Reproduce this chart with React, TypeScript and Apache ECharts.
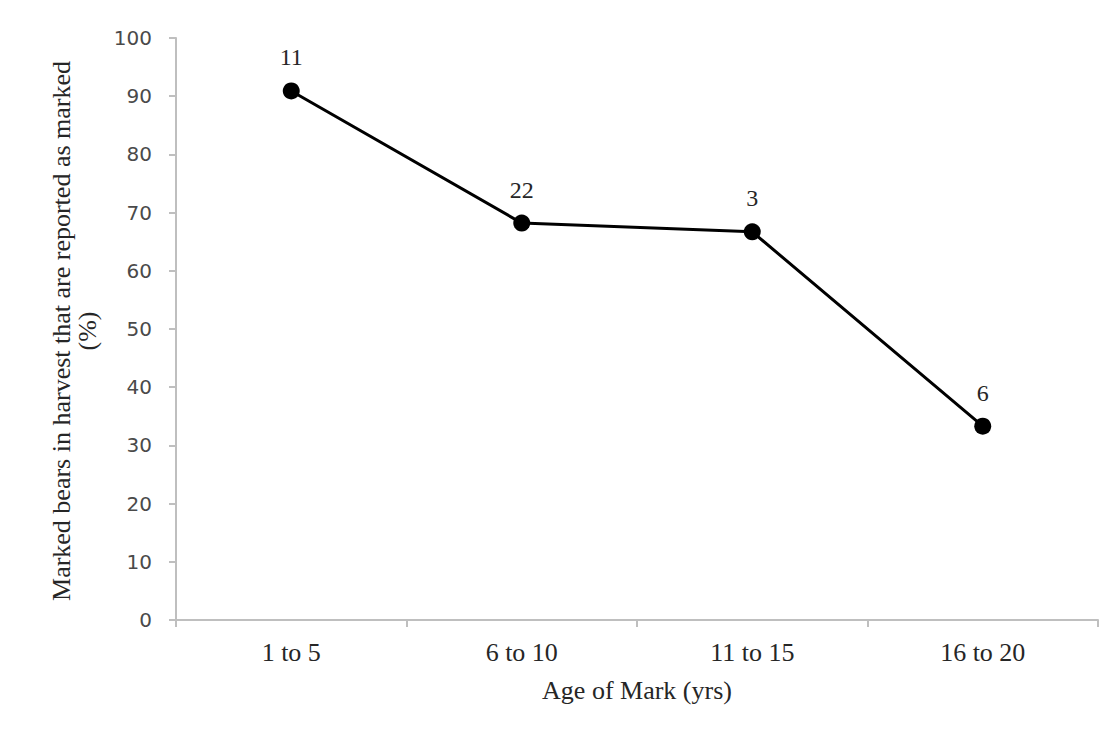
import React, { useEffect, useRef } from "react";
import * as echarts from "echarts";

const categories = ["1 to 5", "6 to 10", "11 to 15", "16 to 20"];
const percentReported = [90.9, 68.2, 66.7, 33.3];
const sampleSizes = ["11", "22", "3", "6"];
const yTitle = "Marked bears in harvest that are reported as marked\n(%)";
const xTitle = "Age of Mark (yrs)";

const serif = "'Liberation Serif', 'Times New Roman', serif";
const sans = "'DejaVu Sans', Verdana, sans-serif";

export default function App() {
  const ref = useRef<HTMLDivElement>(null);
  useEffect(() => {
    if (!ref.current) return;
    const chart = echarts.init(ref.current, null, { renderer: "svg" });
    chart.setOption({
      animation: false,
      backgroundColor: "#ffffff",
      grid: { left: 176, right: 22, top: 38, bottom: 114, outerBoundsMode: "none" },
      xAxis: {
        type: "category",
        data: categories,
        boundaryGap: true,
        axisLine: { lineStyle: { color: "#bfbfbf", width: 2 } },
        axisTick: { show: true, length: 7, alignWithLabel: false, lineStyle: { color: "#bfbfbf", width: 2 } },
        axisLabel: { color: "#262626", fontFamily: serif, fontSize: 26, margin: 19 },
        splitLine: { show: false },
      },
      yAxis: {
        type: "value",
        min: 0,
        max: 100,
        interval: 10,
        axisLine: { show: true, lineStyle: { color: "#bfbfbf", width: 2 } },
        axisTick: { show: true, length: 7, lineStyle: { color: "#bfbfbf", width: 2 } },
        axisLabel: { color: "#4a4a4a", fontFamily: sans, fontSize: 20, margin: 24 },
        splitLine: { show: false },
      },
      graphic: [
        {
          type: "text",
          x: 74,
          y: 331,
          rotation: Math.PI / 2,
          style: {
            text: yTitle,
            fill: "#262626",
            font: `26px ${serif}`,
            align: "center",
            verticalAlign: "middle",
            lineHeight: 26,
          },
        },
        {
          type: "text",
          x: 637,
          y: 690,
          style: {
            text: xTitle,
            fill: "#262626",
            font: `26px ${serif}`,
            align: "center",
            verticalAlign: "middle",
          },
        },
      ],
      series: [
        {
          type: "line",
          data: percentReported.map((v, i) => ({
            value: v,
            label: { formatter: sampleSizes[i] },
          })),
          lineStyle: { color: "#000000", width: 3 },
          itemStyle: { color: "#000000" },
          symbol: "circle",
          symbolSize: 17,
          label: {
            show: true,
            position: "top",
            distance: 13,
            color: "#262626",
            fontFamily: serif,
            fontSize: 24,
          },
        },
      ],
    });
    return () => chart.dispose();
  }, []);
  return <div ref={ref} style={{ width: 1120, height: 734, position: "absolute", left: 0, top: 0 }} />;
}
